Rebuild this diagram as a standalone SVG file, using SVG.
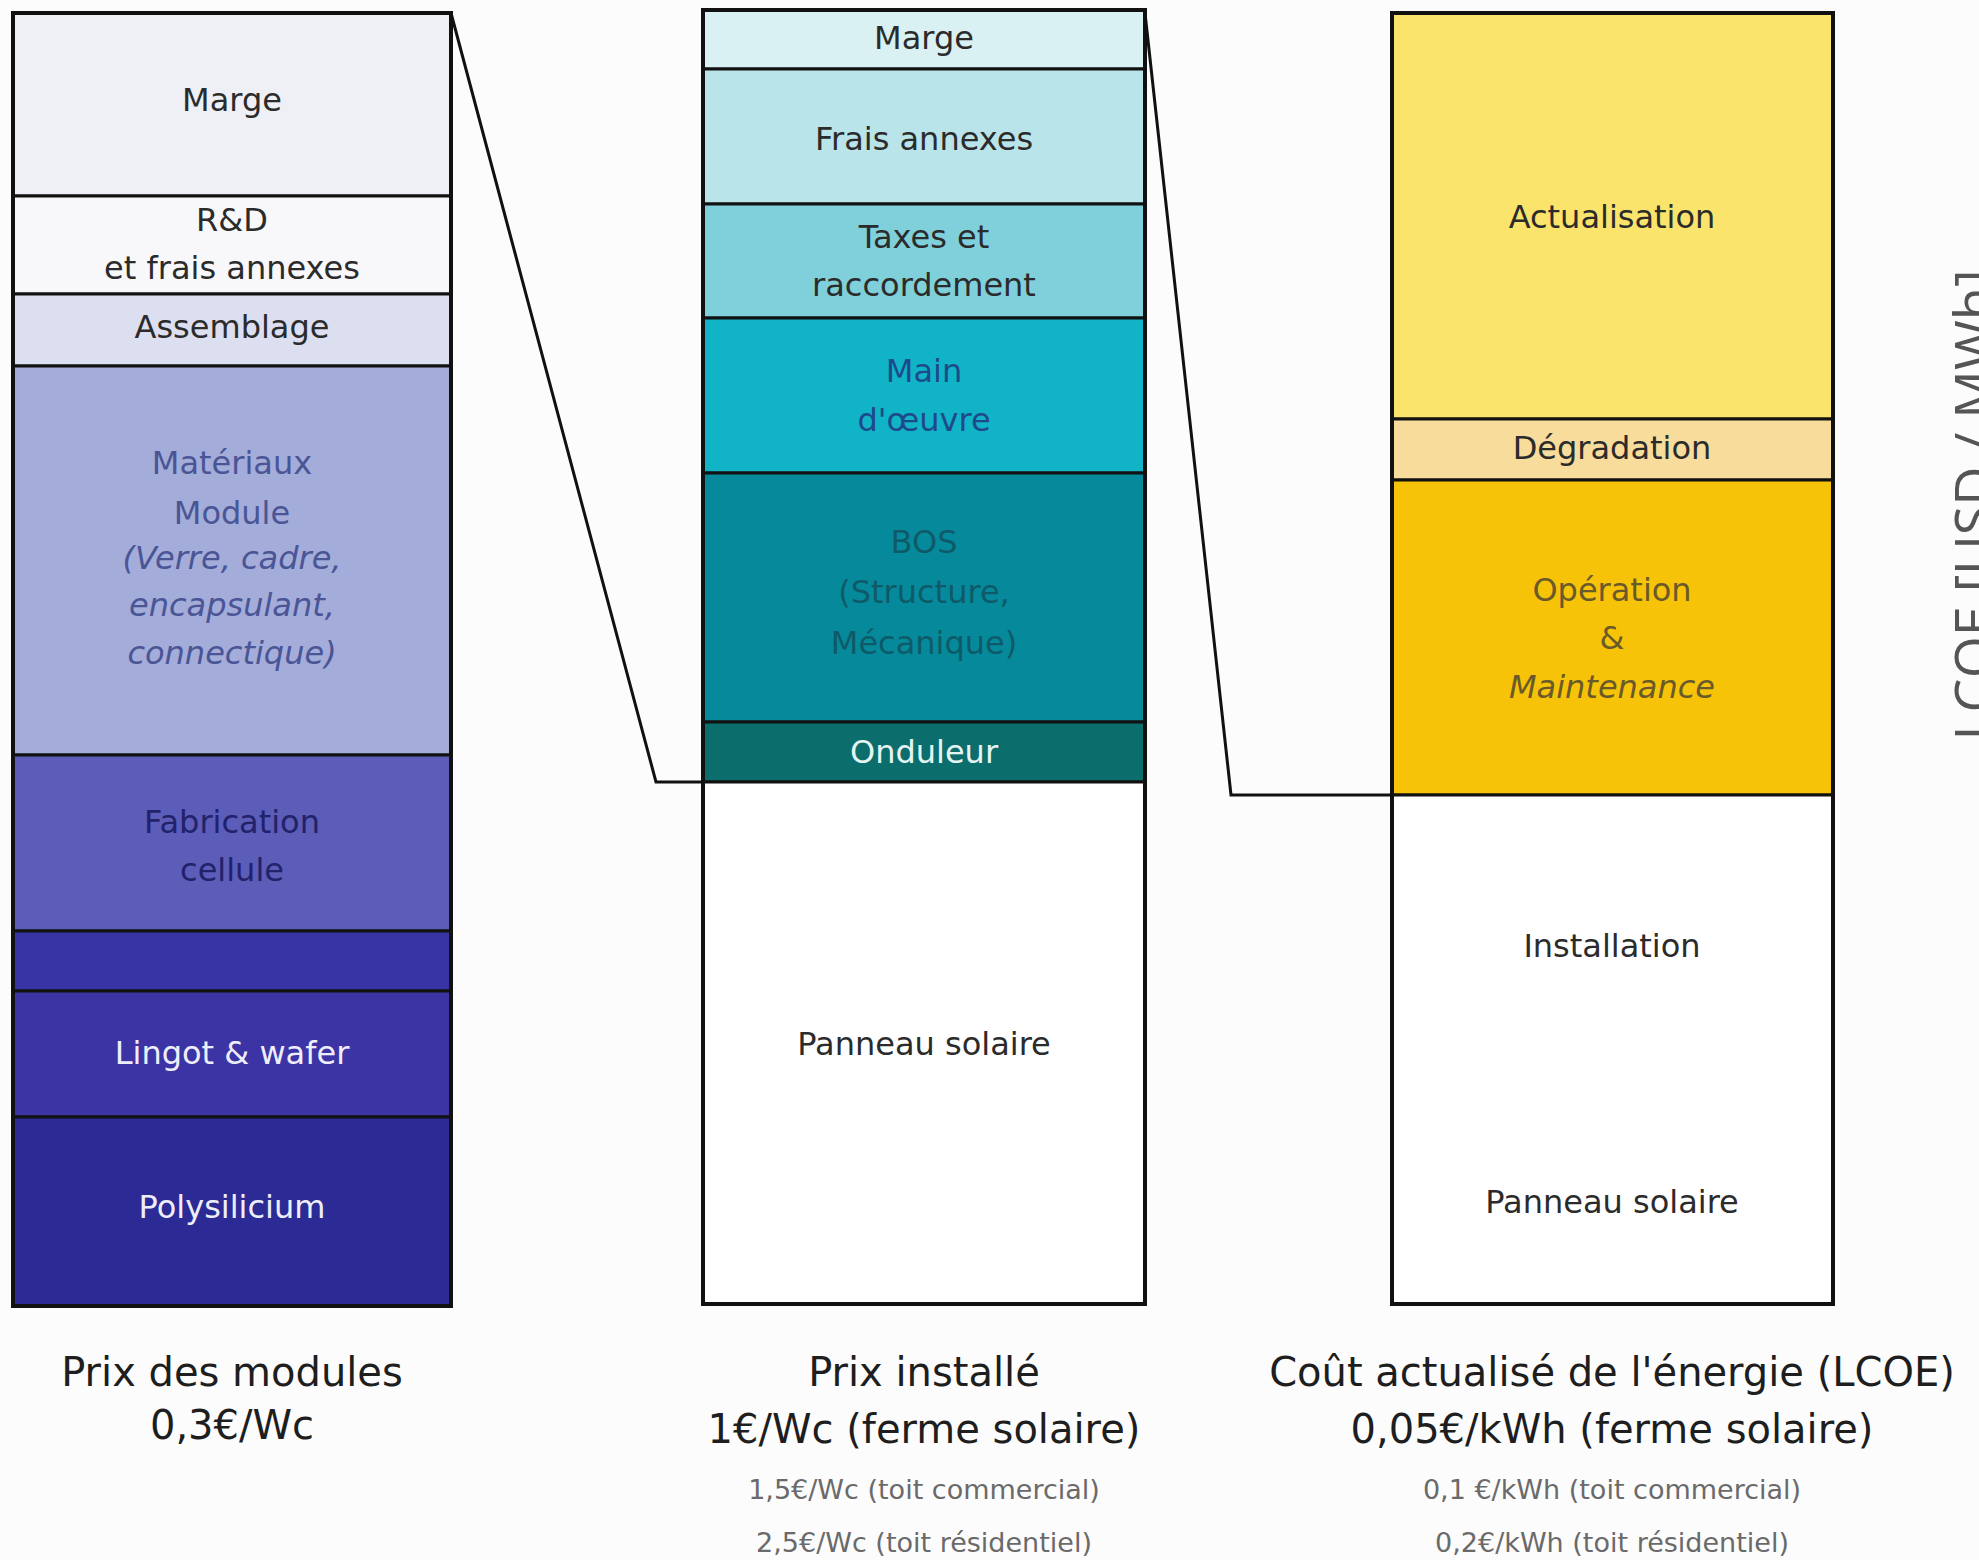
<svg xmlns="http://www.w3.org/2000/svg" width="1979" height="1560" viewBox="0 0 1979 1560">
<style>
  .seg { stroke: #111; stroke-width: 3; }
  .frame { fill: none; stroke: #111; stroke-width: 4; }
  .lbl { font-family: "DejaVu Sans", "Liberation Sans", sans-serif; font-size: 32px; text-anchor: middle; }
  .dark { fill: #2b2b2b; }
  .white { fill: #eeeefa; }
  .cap { font-family: "DejaVu Sans", "Liberation Sans", sans-serif; font-size: 40px; text-anchor: middle; fill: #1e1e1e; }
  .sub { font-family: "DejaVu Sans", "Liberation Sans", sans-serif; font-size: 27px; text-anchor: middle; fill: #6a6a6a; }
  .conn { fill: none; stroke: #111; stroke-width: 3; }
</style>
<rect x="0" y="0" width="1979" height="1560" fill="#fcfcfc"/>

<!-- Left column: Prix des modules -->
<g id="col-modules">
  <g id="m-marge"><rect class="seg" x="13" y="13" width="438" height="183" fill="#eff0f6"/><text class="lbl dark" x="232" y="111">Marge</text></g>
  <g id="m-rd"><rect class="seg" x="13" y="196" width="438" height="98" fill="#f8f8fb"/><text class="lbl dark" x="232" y="231">R&amp;D</text><text class="lbl dark" x="232" y="279">et frais annexes</text></g>
  <g id="m-assemblage"><rect class="seg" x="13" y="294" width="438" height="72" fill="#dcdff0"/><text class="lbl dark" x="232" y="338">Assemblage</text></g>
  <g id="m-materiaux"><rect class="seg" x="13" y="366" width="438" height="389" fill="#a4acd9"/>
    <text class="lbl" fill="#4a5596" x="232" y="474">Matériaux</text>
    <text class="lbl" fill="#4a5596" x="232" y="524">Module</text>
    <text class="lbl" fill="#4a5596" font-style="italic" x="232" y="569">(Verre, cadre,</text>
    <text class="lbl" fill="#4a5596" font-style="italic" x="232" y="616">encapsulant,</text>
    <text class="lbl" fill="#4a5596" font-style="italic" x="232" y="664">connectique)</text>
  </g>
  <g id="m-cellule"><rect class="seg" x="13" y="755" width="438" height="176" fill="#5b5db9"/><text class="lbl" fill="#22226a" x="232" y="833">Fabrication</text><text class="lbl" fill="#22226a" x="232" y="881">cellule</text></g>
  <g id="m-band"><rect class="seg" x="13" y="931" width="438" height="60" fill="#3934a6"/></g>
  <g id="m-lingot"><rect class="seg" x="13" y="991" width="438" height="126" fill="#3c34a4"/><text class="lbl white" x="232" y="1064">Lingot &amp; wafer</text></g>
  <g id="m-poly"><rect class="seg" x="13" y="1117" width="438" height="189" fill="#2c2a94"/><text class="lbl white" x="232" y="1218">Polysilicium</text></g>
  <rect class="frame" x="13" y="13" width="438" height="1293"/>
  <text class="cap" x="232" y="1386">Prix des modules</text>
  <text class="cap" x="232" y="1439">0,3€/Wc</text>
</g>

<!-- Middle column: Prix installé -->
<g id="col-installe">
  <g id="i-marge"><rect class="seg" x="703" y="10" width="442" height="59" fill="#daf1f3"/><text class="lbl dark" x="924" y="49">Marge</text></g>
  <g id="i-frais"><rect class="seg" x="703" y="69" width="442" height="135" fill="#b9e4ea"/><text class="lbl dark" x="924" y="150">Frais annexes</text></g>
  <g id="i-taxes"><rect class="seg" x="703" y="204" width="442" height="114" fill="#80d0dc"/><text class="lbl dark" x="924" y="248">Taxes et</text><text class="lbl dark" x="924" y="296">raccordement</text></g>
  <g id="i-main"><rect class="seg" x="703" y="318" width="442" height="155" fill="#11b4c7"/><text class="lbl" fill="#1d4a8a" x="924" y="382">Main</text><text class="lbl" fill="#1d4a8a" x="924" y="431">d'œuvre</text></g>
  <g id="i-bos"><rect class="seg" x="703" y="473" width="442" height="249" fill="#068a9b"/>
    <text class="lbl" fill="#0e5a68" x="924" y="553">BOS</text>
    <text class="lbl" fill="#0e5a68" x="924" y="603">(Structure,</text>
    <text class="lbl" fill="#0e5a68" x="924" y="654">Mécanique)</text>
  </g>
  <g id="i-onduleur"><rect class="seg" x="703" y="722" width="442" height="60" fill="#0b6d6c"/><text class="lbl" fill="#e6f4f2" x="924" y="763">Onduleur</text></g>
  <g id="i-panneau"><rect class="seg" x="703" y="782" width="442" height="522" fill="#ffffff"/><text class="lbl dark" x="924" y="1055">Panneau solaire</text></g>
  <rect class="frame" x="703" y="10" width="442" height="1294"/>
  <text class="cap" x="924" y="1386">Prix installé</text>
  <text class="cap" x="924" y="1443">1€/Wc (ferme solaire)</text>
  <text class="sub" x="924" y="1499">1,5€/Wc (toit commercial)</text>
  <text class="sub" x="924" y="1552">2,5€/Wc (toit résidentiel)</text>
</g>

<!-- Right column: LCOE -->
<g id="col-lcoe">
  <g id="l-actualisation"><rect class="seg" x="1392" y="13" width="441" height="406" fill="#fbe46b"/><text class="lbl dark" x="1612" y="228">Actualisation</text></g>
  <g id="l-degradation"><rect class="seg" x="1392" y="419" width="441" height="61" fill="#f8dc9c"/><text class="lbl dark" x="1612" y="459">Dégradation</text></g>
  <g id="l-om"><rect class="seg" x="1392" y="480" width="441" height="315" fill="#f7c309"/>
    <text class="lbl" fill="#6a5a2a" x="1612" y="601">Opération</text>
    <text class="lbl" fill="#6a5a2a" x="1612" y="649">&amp;</text>
    <text class="lbl" fill="#6a5a2a" font-style="italic" x="1612" y="698">Maintenance</text>
  </g>
  <g id="l-installation"><rect class="seg" x="1392" y="795" width="441" height="509" fill="#ffffff"/><text class="lbl dark" x="1612" y="957">Installation</text><text class="lbl dark" x="1612" y="1213">Panneau solaire</text></g>
  <rect class="frame" x="1392" y="13" width="441" height="1291"/>
  <text class="cap" x="1612" y="1386">Coût actualisé de l'énergie (LCOE)</text>
  <text class="cap" x="1612" y="1443">0,05€/kWh (ferme solaire)</text>
  <text class="sub" x="1612" y="1499">0,1 €/kWh (toit commercial)</text>
  <text class="sub" x="1612" y="1552">0,2€/kWh (toit résidentiel)</text>
</g>

<!-- Axis label (clipped at right edge, as in the reference) -->
<g id="axis-label">
  <text x="0" y="0" transform="translate(1994,505) rotate(-90)" font-family="'Open Sans', 'DejaVu Sans', sans-serif" font-size="54" fill="#555" text-anchor="middle">LCOE [USD / MWh]</text>
</g>

<!-- Connectors -->
<g id="connectors">
  <polyline class="conn" points="451,13 656,782 703,782"/>
  <polyline class="conn" points="1145,13 1231,795 1392,795"/>
</g>
</svg>
